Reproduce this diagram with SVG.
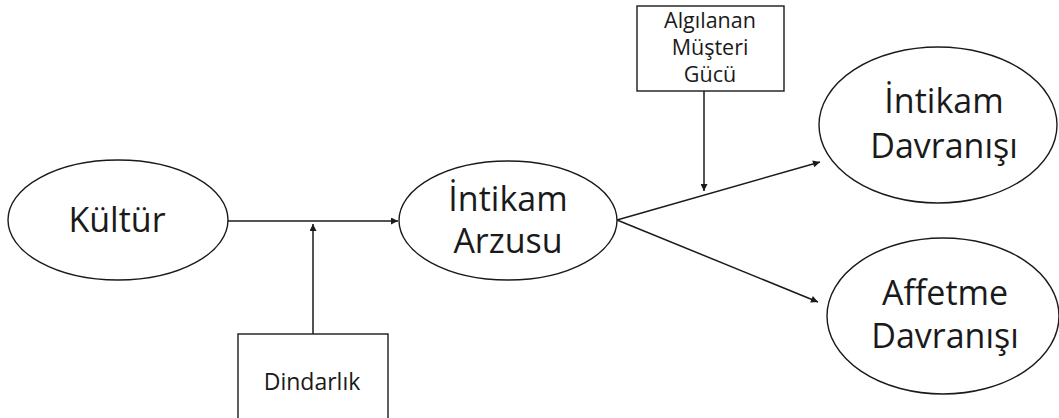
<svg xmlns="http://www.w3.org/2000/svg" width="1059" height="418" viewBox="0 0 1059 418">
<style>
.node{fill:#fff;stroke:#1a1a1a;stroke-width:1.4}
.t{font-family:"Open Sans","Noto Sans",sans-serif;fill:#1a1a1a;text-anchor:middle}
.big{font-size:34px}
.small{font-size:21.5px}
.edge{stroke:#1a1a1a;stroke-width:1.5;fill:none;marker-end:url(#ah)}
</style>
<defs>
<marker id="ah" viewBox="0 0 10 10" refX="10" refY="5" markerWidth="8" markerHeight="7" markerUnits="userSpaceOnUse" orient="auto">
<path d="M0,0 L10,5 L0,10 z" fill="#1a1a1a"/>
</marker>
</defs>
<rect width="1059" height="418" fill="#fff"/>
<g id="connectors">
<line class="edge" x1="228" y1="221" x2="398" y2="221"/>
<line class="edge" x1="313" y1="334" x2="313" y2="224"/>
<line class="edge" x1="617" y1="220" x2="820" y2="162"/>
<line class="edge" x1="617" y1="220" x2="818" y2="302"/>
<line class="edge" x1="704" y1="91" x2="704" y2="191"/>
</g>
<g id="kultur">
<ellipse class="node" cx="118" cy="220" rx="110" ry="60"/>
<text class="t big" x="117" y="232">Kültür</text>
</g>
<g id="intikam-arzusu">
<ellipse class="node" cx="508" cy="220.5" rx="109" ry="59.5"/>
<text class="t big" x="508" y="211">İntikam</text>
<text class="t big" x="508" y="253">Arzusu</text>
</g>
<g id="intikam-davranisi">
<ellipse class="node" cx="938" cy="125" rx="119" ry="78"/>
<text class="t big" x="944" y="113">İntikam</text>
<text class="t big" x="944" y="158">Davranışı</text>
</g>
<g id="affetme-davranisi">
<ellipse class="node" cx="943" cy="316" rx="116" ry="78"/>
<text class="t big" x="945" y="305">Affetme</text>
<text class="t big" x="945" y="348">Davranışı</text>
</g>
<g id="algilanan">
<rect class="node" x="637" y="6" width="147" height="85"/>
<text class="t small" x="710" y="28">Algılanan</text>
<text class="t small" x="710" y="55">Müşteri</text>
<text class="t small" x="710" y="82">Gücü</text>
</g>
<g id="dindarlik">
<rect class="node" x="238" y="334" width="150" height="100"/>
<text class="t small" x="312" y="390" style="font-size:23px">Dindarlık</text>
</g>
</svg>
